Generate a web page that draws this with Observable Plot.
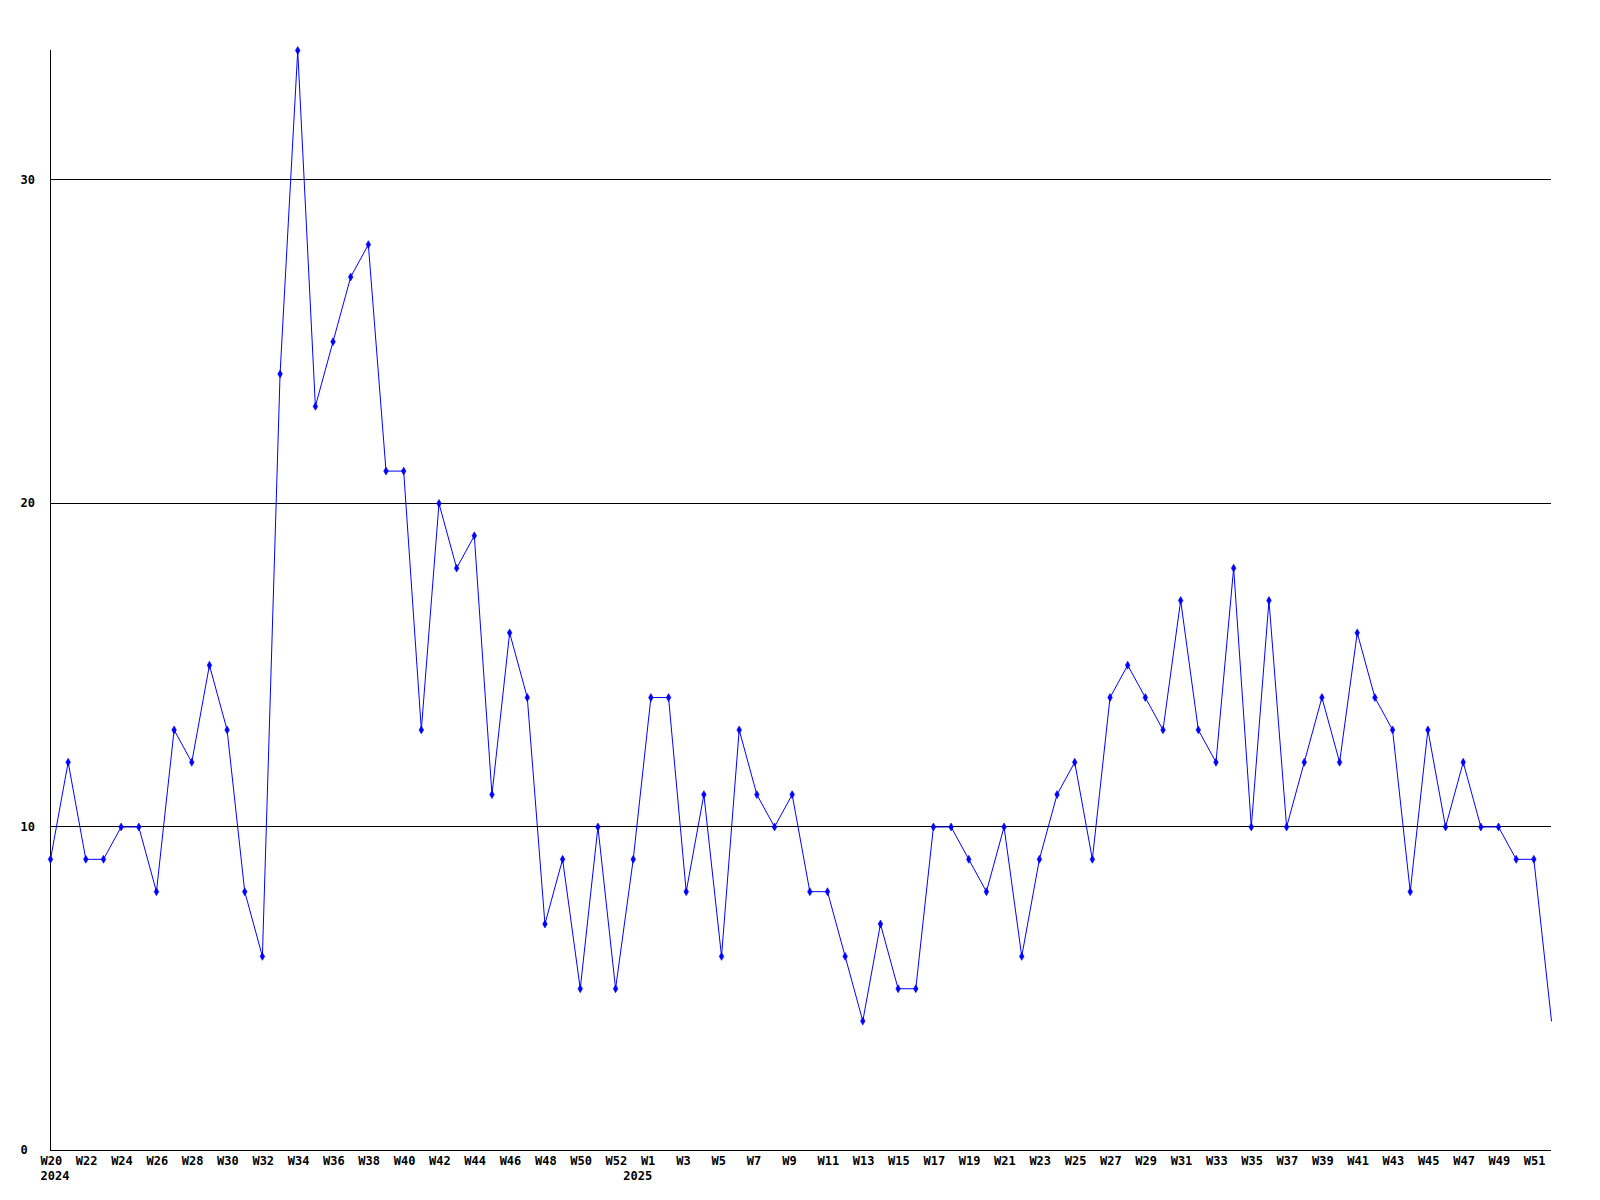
<!DOCTYPE html>
<html>
<head>
<meta charset="utf-8">
<script src="https://cdn.jsdelivr.net/npm/d3@7"></script>
<script src="https://cdn.jsdelivr.net/npm/@observablehq/plot@0.6"></script>
<style>
  html, body { margin: 0; padding: 0; background: #fff; }
  #chart { width: 1600px; height: 1200px; }
</style>
</head>
<body>
<div id="chart"></div>
<script>
// Weekly counts, 2024 (W20 .. W53)
const weeks2024 = [20,21,22,23,24,25,26,27,28,29,30,31,32,33,34,35,36,37,38,39,40,41,42,43,44,45,46,47,48,49,50,51,52,53];
const values2024 = [9,12,9,9,10,10,8,13,12,15,13,8,6,24,34,23,25,27,28,21,21,13,20,18,19,11,16,14,7,9,5,10,5,9];
// Weekly counts, 2025 (W1 .. W52)
const weeks2025 = [1,2,3,4,5,6,7,8,9,10,11,12,13,14,15,16,17,18,19,20,21,22,23,24,25,26,27,28,29,30,31,32,33,34,35,36,37,38,39,40,41,42,43,44,45,46,47,48,49,50,51,52];
const values2025 = [14,14,8,11,6,13,11,10,11,8,8,6,4,7,5,5,10,10,9,8,10,6,9,11,12,9,14,15,14,13,17,13,12,18,10,17,10,12,14,12,16,14,13,8,13,10,12,10,10,9,9,4];
// Labelled weeks (every other week) and year labels
const labelledWeeks2024 = [20,22,24,26,28,30,32,34,36,38,40,42,44,46,48,50,52];
const labelledWeeks2025 = [1,3,5,7,9,11,13,15,17,19,21,23,25,27,29,31,33,35,37,39,41,43,45,47,49,51];
const yearLabels = [{year: "2024", year0: 2024, week: 20}, {year: "2025", year0: 2024, week: 53}];
const yTicks = [0, 10, 20, 30];
const gridLines = [10, 20, 30];

// Build table
const rows = [];
weeks2024.forEach((w, k) => rows.push({year: 2024, week: w, value: values2024[k]}));
weeks2025.forEach((w, k) => rows.push({year: 2025, week: w, value: values2025[k]}));
rows.forEach((r, i) => r.i = i);
const idx = (year, week) => rows.findIndex(r => r.year === year && r.week === week);

const xLabels = [
  ...labelledWeeks2024.map(w => ({i: idx(2024, w), text: "W" + w})),
  ...labelledWeeks2025.map(w => ({i: idx(2025, w), text: "W" + w}))
];
const yLabelRows = yearLabels.map(d => ({i: idx(d.year0, d.week), text: d.year}));

const font = "DejaVu Sans Mono, monospace";
const blue = "#0000ff";

const chart = Plot.plot({
  width: 1600,
  height: 1200,
  marginLeft: 50,
  marginRight: 49,
  marginTop: 50,
  marginBottom: 50,
  style: {background: "#fff", fontFamily: font},
  x: {type: "linear", domain: [0, rows.length - 1], axis: null},
  y: {type: "linear", domain: [0, 34], axis: null},
  marks: [
    Plot.ruleY(gridLines, {stroke: "#000", strokeWidth: 1, shapeRendering: "crispEdges"}),
    Plot.ruleY([0], {stroke: "#000", strokeWidth: 1, shapeRendering: "crispEdges"}),
    Plot.ruleX([0], {stroke: "#000", strokeWidth: 1, shapeRendering: "crispEdges"}),
    Plot.line(rows, {x: "i", y: "value", stroke: blue, strokeWidth: 1}),
    Plot.dot(rows.slice(0, -1), {x: "i", y: "value", symbol: "diamond", r: 2.4, fill: blue, stroke: blue, strokeWidth: 0.6}),
    Plot.text(yTicks, {y: d => d, frameAnchor: "left", dx: -30, textAnchor: "start", text: d => String(d), fontSize: 12, fontWeight: "bold", fill: "#000", fontFamily: font}),
    Plot.text(xLabels, {x: "i", frameAnchor: "bottom", dy: 14, dx: -10, textAnchor: "start", text: "text", fontSize: 12, fontWeight: "bold", fill: "#000", fontFamily: font}),
    Plot.text(yLabelRows, {x: "i", frameAnchor: "bottom", dy: 29, dx: -10, textAnchor: "start", text: "text", fontSize: 12, fontWeight: "bold", fill: "#000", fontFamily: font})
  ]
});
document.getElementById("chart").appendChild(chart);
</script>
</body>
</html>
